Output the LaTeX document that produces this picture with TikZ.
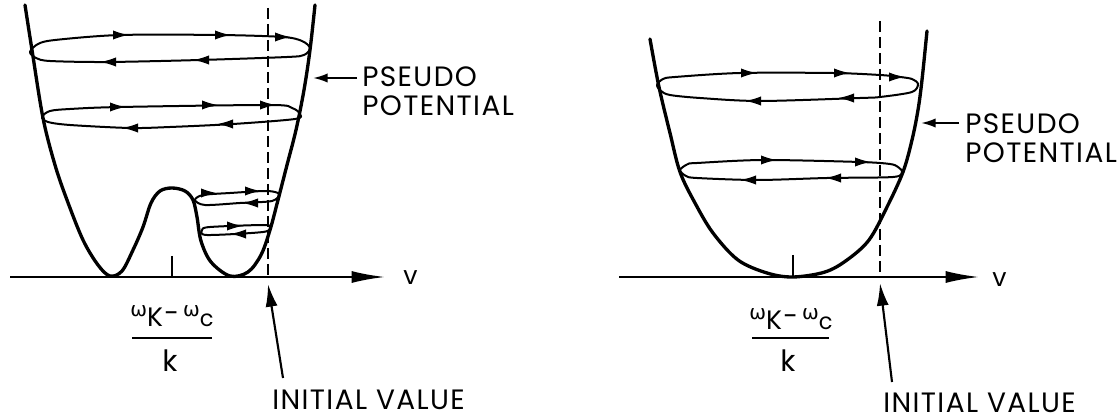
\documentclass[tikz,border=0pt]{standalone}
\usepackage{fontspec}
\setmainfont{Poppins}
\newfontfamily\lblfont[LetterSpace=5]{Poppins}
\newfontfamily\grk{DejaVu Sans}
\usetikzlibrary{arrows.meta}
\newcommand\rarr[2]{\draw[orbarr] (#1-8,#2) -- (#1,#2);}
\newcommand\larr[2]{\draw[orbarr] (#1+8,#2) -- (#1,#2);}
\newcommand\numer{\raisebox{7.5pt}{\grk\fontsize{15}{17}\selectfont ω}K\kern1pt\raisebox{3.5pt}{-}\kern3pt\raisebox{7.5pt}{\grk\fontsize{15}{17}\selectfont ω}{\fontsize{17}{19}\selectfont c}}
\begin{document}
\begin{tikzpicture}[x=0.75pt,y=-0.75pt,
  wall/.style={line width=2.5pt, line join=round, line cap=round},
  orb/.style={line width=1.5pt, line join=round},
  orbarr/.style={line width=1.5pt, -{Latex[length=12pt,width=7pt]}},
  axisline/.style={line width=1.7pt, -{Latex[length=25pt,width=9pt]}},
  dashline/.style={line width=1.2pt, dash pattern=on 8pt off 4pt},
  tick/.style={line width=1.2pt},
  callout/.style={line width=1.6pt, -{Latex[length=17pt,width=9pt]}},
  pcallout/.style={line width=1.6pt, -{Latex[length=11pt,width=7pt]}},
  lbl/.style={inner sep=0pt, anchor=base west, text depth=0pt, font=\lblfont\fontsize{21}{24}\selectfont},
  vlbl/.style={inner sep=0pt, anchor=base west, font=\fontsize{19}{21}\selectfont},
  frac/.style={inner sep=0pt, anchor=base, font=\fontsize{20}{23}\selectfont}]
\useasboundingbox (0,0) rectangle (1118,420);

% ================= LEFT PANEL =================
\coordinate (axL0) at (10,277);
\coordinate (axL1) at (385,277);
\draw[axisline] (axL0) -- (axL1);
\node[vlbl] (vL) at (403,285) {v};
\coordinate (tkL0) at (172,256); \coordinate (tkL1) at (172,277);
\draw[tick] (tkL0) -- (tkL1);
\coordinate (dsL0) at (268,8); \coordinate (dsL1) at (268,277);
\draw[dashline] (dsL0) -- (dsL1);
% pseudo potential (double well)
\draw[wall] plot[smooth, tension=0.55] coordinates {
 (25,5) (32,50) (43,118) (55,165) (67,200) (83,240) (98,265) (110,276)
 (122,271) (133,250) (143,227) (151,203) (160,191) (172,188) (185,191)
 (193,200) (197,217) (201,241) (211,262) (230,276) (248,272) (261,255)
 (270,230) (278,200) (287,165) (296,130) (304,90) (310,50) (315,5)};
% orbits
\draw[orb] plot[smooth cycle, tension=0.5] coordinates {
 (30,52) (38,44) (55,40) (120,35) (220,35) (283,37) (302,41) (310,48)
 (304,55) (287,57) (200,60) (107,62) (50,61) (36,58)};
\rarr{129}{35} \rarr{231}{35} \rarr{291}{37}
\larr{100}{62} \larr{193}{60}
\draw[orb] plot[smooth cycle, tension=0.5] coordinates {
 (42,117) (50,111) (70,109) (120,107) (270,105) (292,108) (300,114)
 (295,119) (233,124) (170,127) (130,128) (70,125) (48,122)};
\rarr{126}{107} \rarr{218}{105} \rarr{276}{105}
\larr{122}{128} \larr{217}{124}
\draw[orb] plot[smooth cycle, tension=0.5] coordinates {
 (195,200) (203,195) (230,193) (267,191) (279,194)
 (272,201) (240,203) (205,205)};
\rarr{217}{193} \rarr{261}{191}
\larr{242}{203}
\draw[orb] plot[smooth cycle, tension=0.5] coordinates {
 (202,230) (210,227) (263,225) (270,227) (263,232) (207,235)};
\rarr{243}{226}
\larr{230}{234}
% labels
\coordinate (psLt) at (357,78); \coordinate (psLh) at (313,78);
\draw[pcallout] (psLt) -- (psLh);
\node[lbl] (pseudoL) at (362,87) {PSEUDO};
\node[lbl] (potL) at (362,116) {POTENTIAL};
\node[frac] (numL) at (172,327) {\numer};
\coordinate (frL0) at (132,338); \coordinate (frL1) at (212,338);
\draw[line width=1.6pt] (frL0) -- (frL1);
\node[frac, font=\fontsize{22}{24}\selectfont] (denL) at (170,372) {k};
\coordinate (ivLt) at (283,378); \coordinate (ivLh) at (268,284);
\draw[callout] (ivLt) -- (ivLh);
\node[lbl] (ivL) at (272,410) {INITIAL VALUE};

% ================= RIGHT PANEL =================
\coordinate (axR0) at (619,277);
\coordinate (axR1) at (979,277);
\draw[axisline] (axR0) -- (axR1);
\node[vlbl] (vR) at (992,287) {v};
\coordinate (tkR0) at (793,255); \coordinate (tkR1) at (793,277);
\draw[tick] (tkR0) -- (tkR1);
\coordinate (dsR0) at (880,21); \coordinate (dsR1) at (880,277);
\draw[dashline] (dsR0) -- (dsR1);
\draw[wall] plot[smooth, tension=0.55] coordinates {
 (650,39) (659,87) (670,133) (680,172) (695,203) (713,233) (738,260)
 (767,273) (793,277) (825,272) (847,260) (869,240) (887,207) (903,172)
 (912,140) (918,110) (922,80) (927,31)};
\draw[orb] plot[smooth cycle, tension=0.5] coordinates {
 (657,85) (663,79) (675,77) (740,73) (833,73) (880,75) (900,77) (912,79)
 (918,84) (912,92) (880,97) (860,98) (760,101) (700,98) (670,95) (661,91)};
\rarr{757}{73} \rarr{850}{73} \rarr{905}{77}
\larr{745}{101} \larr{838}{98}
\draw[orb] plot[smooth cycle, tension=0.5] coordinates {
 (680,170) (688,164) (697,163) (763,160) (860,162) (890,164) (898,167)
 (902,172) (893,177) (827,178) (757,180) (697,178) (686,176)};
\rarr{777}{160} \rarr{871}{162}
\larr{740}{180} \larr{825}{178}
\coordinate (psRt) at (959,123); \coordinate (psRh) at (921,123);
\draw[pcallout] (psRt) -- (psRh);
\node[lbl] (pseudoR) at (965,134) {PSEUDO};
\node[lbl] (potR) at (965,163) {POTENTIAL};
\node[frac] (numR) at (791,330) {\numer};
\coordinate (frR0) at (752,338); \coordinate (frR1) at (829,338);
\draw[line width=1.6pt] (frR0) -- (frR1);
\node[frac, font=\fontsize{22}{24}\selectfont] (denR) at (788,372) {k};
\coordinate (ivRt) at (892,382); \coordinate (ivRh) at (880,283);
\draw[callout] (ivRt) -- (ivRh);
\node[lbl] (ivR) at (883,412) {INITIAL VALUE};
\end{tikzpicture}
\end{document}
